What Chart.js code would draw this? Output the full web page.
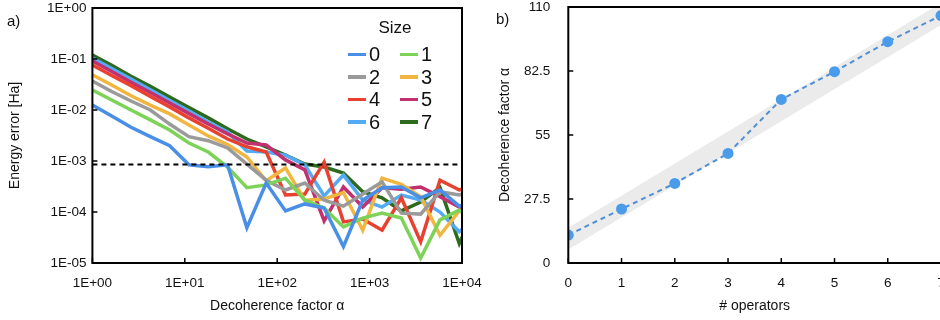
<!DOCTYPE html>
<html>
<head>
<meta charset="utf-8">
<script src="https://cdn.jsdelivr.net/npm/chart.js@4.4.1/dist/chart.umd.min.js"></script>
<style>
html, body { margin: 0; padding: 0; background: #fff; overflow: hidden; }
#wrap { position: relative; width: 940px; height: 320px; overflow: hidden; font-family: "Liberation Sans", Arial, sans-serif; color: #111; }
canvas { position: absolute; top: 0; }
#ca { left: 0; }
#cb { left: 480px; }
.tag { position: absolute; font-size: 15px; line-height: 18px; }
#legend .item { position: absolute; display: flex; align-items: center; height: 22px; font-size: 20px; line-height: 22px; }
#legend .sw { display: inline-block; width: 18px; height: 3.5px; margin-right: 3px; }
#legend .ttl { position: absolute; left: 365px; top: 18px; width: 60px; text-align: center; font-size: 17px; line-height: 20px; }
</style>
</head>
<body>
<div id="wrap">
  <canvas id="ca" width="500" height="320"></canvas>
  <canvas id="cb" width="480" height="320"></canvas>
  <div class="tag" style="left:7px;top:12px">a)</div>
  <div class="tag" style="left:496px;top:10px">b)</div>
  <div id="legend"><div class="ttl">Size</div></div>
</div>
<script>
// ---- panel a: energy error vs decoherence factor ----
const alphas = [1, 1.618, 2.618, 4.236, 6.854, 11.09, 17.94, 29.03, 46.98, 76.01, 123.0,
                199.0, 322.0, 521.0, 842.9, 1364, 2207, 3571, 5778, 9349, 15127];
const sizes = ['0', '1', '2', '3', '4', '5', '6', '7'];
const sizeColors = ['#4a8fe7', '#7dd258', '#9a9a9a', '#f1b640', '#e8412f', '#c2306f', '#54abf3', '#2d6a1e'];

const err0 = [1.25e-2, 7.6e-3, 4.6e-3, 3.0e-3, 2.0e-3, 8.4e-4, 7.7e-4, 8.4e-4, 4.9e-5, 3.7e-4, 1.05e-4,
              1.44e-4, 1.2e-4, 2.1e-5, 1.7e-4, 3.0e-4, 3.1e-4, 1.9e-4, 2.7e-4, 1.3e-4, 1.7e-4];
const err1 = [2.47e-2, 1.57e-2, 1.0e-2, 6.4e-3, 4.05e-3, 2.25e-3, 1.5e-3, 7.6e-4, 3.0e-4, 3.4e-4, 4.6e-4,
              1.7e-4, 1.2e-4, 5.1e-5, 7.6e-5, 9.5e-5, 7.6e-5, 1.25e-5, 7.0e-5, 1.09e-4, 5.6e-5];
const err2 = [3.7e-2, 2.3e-2, 1.5e-2, 1.0e-2, 5.3e-3, 3.0e-3, 2.5e-3, 1.8e-3, 8.7e-4, 4.2e-4, 2.7e-4,
              3.7e-4, 1.7e-4, 1.3e-4, 2.25e-4, 3.9e-4, 9.5e-5, 9.1e-5, 2.5e-4, 2.15e-4, 3.0e-4];
const err3 = [4.9e-2, 3.1e-2, 1.9e-2, 1.25e-2, 8.4e-3, 5.1e-3, 3.1e-3, 2.1e-3, 1.2e-3, 4.1e-4, 7.3e-4,
              1.7e-4, 1.8e-4, 2.4e-4, 4.4e-5, 4.6e-4, 3.5e-4, 2.0e-4, 3.5e-5, 1.05e-4, 1.4e-4];
const err4 = [7.6e-2, 4.75e-2, 3.0e-2, 1.85e-2, 1.15e-2, 7.0e-3, 4.4e-3, 2.7e-3, 1.9e-3, 1.5e-3, 2.15e-4,
              2.25e-4, 9.5e-4, 6.4e-5, 7.3e-5, 4.4e-5, 1.9e-4, 2.6e-5, 4.2e-4, 2.7e-4, 3.4e-4];
const err5 = [9.1e-2, 5.7e-2, 3.5e-2, 2.2e-2, 1.37e-2, 8.5e-3, 5.3e-3, 3.4e-3, 2.25e-3, 2.06e-3, 1.05e-3,
              6.7e-4, 6.7e-5, 3.1e-4, 1.25e-4, 3.0e-4, 2.8e-4, 3.1e-4, 2.0e-4, 1.25e-4, 1.0e-4];
const err6 = [0.105, 6.5e-2, 4.05e-2, 2.5e-2, 1.54e-2, 9.5e-3, 5.8e-3, 3.7e-3, 1.57e-3, 1.5e-3, 1.3e-3,
              8.4e-4, 2.06e-4, 5.3e-4, 1.72e-4, 1.25e-4, 2.15e-4, 1.72e-4, 1.0e-4, 4.1e-5, 8.7e-5];
const err7 = [0.12, 7.5e-2, 4.6e-2, 2.9e-2, 1.8e-2, 1.12e-2, 7.0e-3, 4.3e-3, 2.7e-3, 1.9e-3, 1.3e-3,
              8.7e-4, 7.6e-4, 5.8e-4, 2.5e-4, 1.9e-4, 1.05e-4, 1.57e-4, 3.0e-4, 2.4e-5, 1.7e-4];
const errSeries = [err0, err1, err2, err3, err4, err5, err6, err7];
const threshold = 8.5e-4;

const errTicks = [1e-5, 1e-4, 1e-3, 1e-2, 1e-1, 1];
const errTickLabels = ['1E-05', '1E-04', '1E-03', '1E-02', '1E-01', '1E+00'];
const alphaTicks = [1, 10, 100, 1000, 10000];
const alphaTickLabels = ['1E+00', '1E+01', '1E+02', '1E+03', '1E+04'];

// ---- panel b: fitted decoherence factor vs number of operators ----
const operators = [0, 1, 2, 3, 4, 5, 6, 7];
const alphaFit = [12.0, 23.2, 34.2, 47.1, 70.3, 82.2, 95.1, 106.3];
const bandX = [0, 7];
const bandLow = [5.8, 102.3];
const bandHigh = [15.2, 111.7];
const opTicks = [0, 1, 2, 3, 4, 5, 6, 7];
const alphaAxisTicks = [0, 27.5, 55, 82.5, 110];

const tickFont = { family: '"Liberation Sans", Arial, sans-serif', size: 13.5 };
const titleFont = { family: '"Liberation Sans", Arial, sans-serif', size: 14 };
Chart.defaults.color = '#111';
Chart.defaults.font = tickFont;

// box around the plot + small inward ticks
const frame = {
  id: 'frame',
  afterDatasetsDraw(chart) {
    const { ctx, chartArea: a, scales } = chart;
    ctx.save();
    ctx.strokeStyle = '#000';
    ctx.lineWidth = 2;
    ctx.strokeRect(a.left, a.top, a.right - a.left, a.bottom - a.top);
    ctx.lineWidth = 1.5;
    ctx.beginPath();
    scales.x.ticks.forEach(t => {
      const px = scales.x.getPixelForValue(t.value);
      ctx.moveTo(px, a.bottom); ctx.lineTo(px, a.bottom - 5);
    });
    scales.y.ticks.forEach(t => {
      const py = scales.y.getPixelForValue(t.value);
      ctx.moveTo(a.left, py); ctx.lineTo(a.left + 5, py);
    });
    ctx.stroke();
    ctx.restore();
  }
};

function fixX(h) {
  return s => { s.height = h; s.paddingLeft = 0; s.paddingRight = 0; };
}
function fixY(w) {
  return s => { s.width = w; s.paddingTop = 0; s.paddingBottom = 0; };
}

const datasetsA = errSeries.map((vals, i) => ({
  label: sizes[i],
  data: alphas.map((a, j) => ({ x: a, y: vals[j] })),
  borderColor: sizeColors[i],
  borderWidth: 3.5,
  pointRadius: 0,
  tension: 0
}));
datasetsA.push({
  label: 'threshold',
  data: [{ x: alphaTicks[0], y: threshold }, { x: alphaTicks[alphaTicks.length - 1], y: threshold }],
  borderColor: '#000',
  borderWidth: 2,
  borderDash: [5, 4],
  pointRadius: 0,
  order: -1
});

new Chart(document.getElementById('ca'), {
  type: 'line',
  data: { datasets: datasetsA },
  plugins: [frame],
  options: {
    responsive: false,
    animation: false,
    layout: { padding: { left: 0, right: 38, top: 8, bottom: 0 } },
    plugins: { legend: { display: false }, tooltip: { enabled: false } },
    scales: {
      x: {
        type: 'logarithmic', min: 1, max: 1e4,
        afterBuildTicks: s => { s.ticks = alphaTicks.map(v => ({ value: v })); },
        afterFit: fixX(57),
        grid: { display: false, drawTicks: false },
        border: { display: false },
        ticks: { callback: (v, i) => alphaTickLabels[i], autoSkip: false, maxRotation: 0, padding: 12 },
        title: { display: true, text: 'Decoherence factor α', font: titleFont, padding: { top: 0, bottom: 5 } }
      },
      y: {
        type: 'logarithmic', min: 1e-5, max: 1,
        afterBuildTicks: s => { s.ticks = errTicks.map(v => ({ value: v })); },
        afterFit: fixY(92.4),
        grid: { display: false, drawTicks: false },
        border: { display: false },
        ticks: { callback: (v, i) => errTickLabels[i], autoSkip: false, padding: 6 },
        title: { display: true, text: 'Energy error [Ha]', font: titleFont, padding: { top: 7, bottom: 0 } }
      }
    }
  }
});

new Chart(document.getElementById('cb'), {
  type: 'line',
  data: {
    datasets: [
      { data: bandX.map((x, i) => ({ x, y: bandLow[i] })), borderWidth: 0, pointRadius: 0, fill: false, order: 3 },
      { data: bandX.map((x, i) => ({ x, y: bandHigh[i] })), borderWidth: 0, pointRadius: 0, fill: '-1',
        backgroundColor: '#ebebeb', order: 2 },
      { data: operators.map((x, i) => ({ x, y: alphaFit[i] })), borderColor: '#4f8fd6', borderWidth: 2,
        borderDash: [5, 4], pointRadius: 5.5, pointBackgroundColor: '#4a9be9', pointBorderWidth: 0, order: 1 }
    ]
  },
  plugins: [frame],
  options: {
    responsive: false,
    animation: false,
    layout: { padding: { left: 0, right: 19, top: 7, bottom: 0 } },
    plugins: { legend: { display: false }, tooltip: { enabled: false } },
    scales: {
      x: {
        type: 'linear', min: 0, max: 7,
        afterBuildTicks: s => { s.ticks = opTicks.map(v => ({ value: v })); },
        afterFit: fixX(57),
        grid: { display: false, drawTicks: false },
        border: { display: false },
        ticks: { autoSkip: false, maxRotation: 0, padding: 12 },
        title: { display: true, text: '# operators', font: titleFont, padding: { top: 0, bottom: 5 } }
      },
      y: {
        type: 'linear', min: 0, max: 110,
        afterBuildTicks: s => { s.ticks = alphaAxisTicks.map(v => ({ value: v })); },
        afterFit: fixY(88.3),
        grid: { display: false, drawTicks: false },
        border: { display: false },
        ticks: { autoSkip: false, padding: 18 },
        title: { display: true, text: 'Decoherence factor α', font: titleFont, padding: { top: 17, bottom: 0 } }
      }
    }
  }
});

// legend for panel a, two columns like the original
const leg = document.getElementById('legend');
sizes.forEach((s, i) => {
  const item = document.createElement('div');
  item.className = 'item';
  item.style.left = (348 + (i % 2) * 52) + 'px';
  item.style.top = (43.3 + Math.floor(i / 2) * 22.5) + 'px';
  item.innerHTML = '<span class="sw" style="background:' + sizeColors[i] + '"></span>' + s;
  leg.appendChild(item);
});
</script>
</body>
</html>
